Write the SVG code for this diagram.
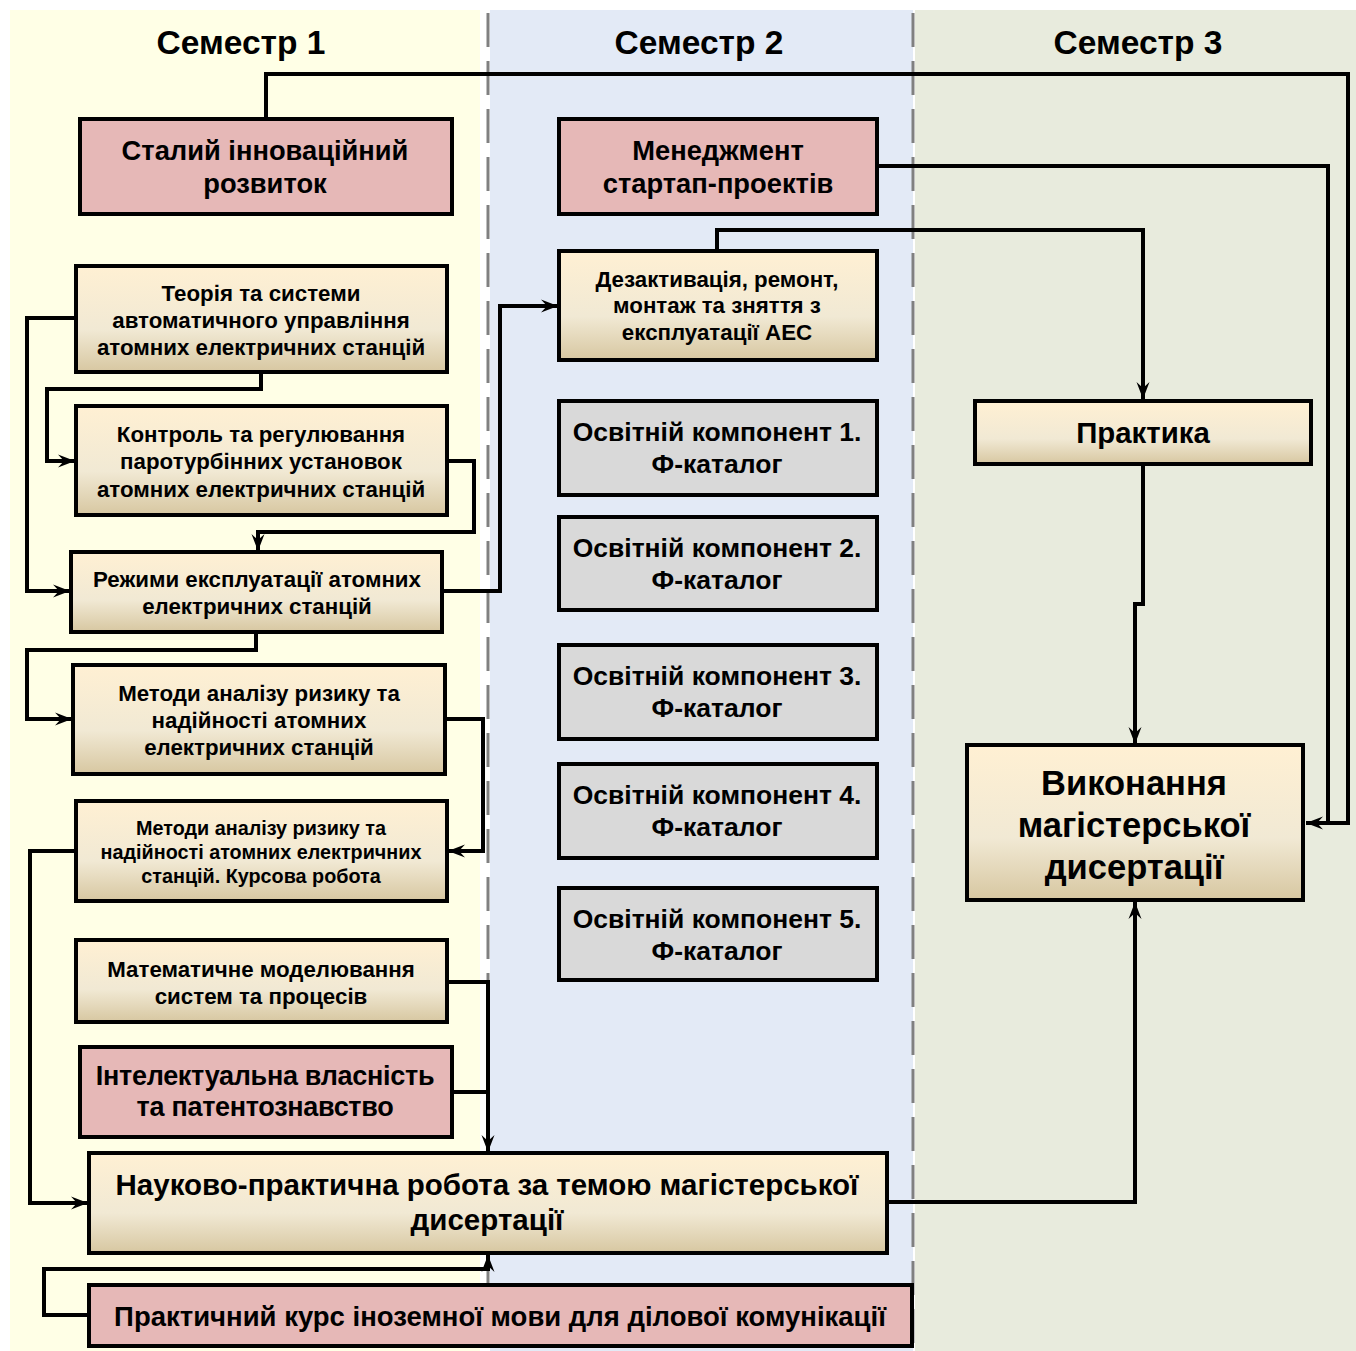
<svg xmlns="http://www.w3.org/2000/svg" width="1356" height="1351" viewBox="0 0 1356 1351">
<defs>
<linearGradient id="cream" x1="0" y1="0" x2="0" y2="1">
<stop offset="0" stop-color="#FFF0D3"/>
<stop offset="0.6" stop-color="#F1E9D4"/>
<stop offset="1" stop-color="#D7C7A1"/>
</linearGradient>
<marker id="arr" markerUnits="userSpaceOnUse" markerWidth="20" markerHeight="16" refX="17" refY="8" orient="auto">
<path d="M0,1.5 L17,8 L0,14.5 L6,8 z" fill="#000"/>
</marker>
<style>
.box{stroke:#000;stroke-width:4}
.pink{fill:#E6B8B7}
.grey{fill:#D9D9D9}
.cream{fill:url(#cream)}
text{font-family:"Liberation Sans",Arial,sans-serif;font-weight:bold;fill:#000;text-anchor:middle}
.hdr{font-size:33.5px}
.t27{font-size:27.3px}
.t22{font-size:22.3px}
.t20{font-size:19.8px}
.t26{font-size:26.5px}
.t34{font-size:34.5px}
.con{fill:none;stroke:#000;stroke-width:4;stroke-linejoin:miter}
.arr{marker-end:url(#arr)}
.dash{stroke:#808080;stroke-width:3;stroke-dasharray:34 14}
</style>
</defs>
<rect width="1356" height="1351" fill="#fff"/>
<g id="columns">
<rect x="10" y="10" width="470" height="1341" fill="#FFFFE6"/>
<rect x="490" y="10" width="423" height="1341" fill="#E3EAF6"/>
<rect x="915" y="10" width="441" height="1341" fill="#E8EBDD"/>
<line class="dash" x1="488" y1="13" x2="488" y2="1351"/>
<line class="dash" x1="913" y1="13" x2="913" y2="1351"/>
<text class="hdr" x="241" y="54">Семестр 1</text>
<text class="hdr" x="699" y="54">Семестр 2</text>
<text class="hdr" x="1138" y="54">Семестр 3</text>
</g>
<g id="connectors">
<path class="con arr" d="M266,119 V74 H1348 V823 H1306"/>
<path class="con" d="M877,166 H1328 V823"/>
<path class="con arr" d="M717,251 V230 H1143 V399"/>
<path class="con arr" d="M1143,464 V604 H1135 V744"/>
<path class="con arr" d="M887,1202 H1135 V902"/>
<path class="con arr" d="M442,591 H500 V306 H558"/>
<path class="con arr" d="M76,318 H27 V591 H70"/>
<path class="con arr" d="M261,372 V389 H47 V461 H75"/>
<path class="con arr" d="M447,461 H474 V532 H258 V551"/>
<path class="con arr" d="M256,632 V650 H27 V719 H72"/>
<path class="con arr" d="M445,719 H483 V851 H448"/>
<path class="con arr" d="M76,851 H30 V1203 H88"/>
<path class="con arr" d="M447,982 H488 V1152"/>
<path class="con" d="M452,1092 H488"/>
<path class="con arr" d="M89,1315 H44 V1269 H488 V1255"/>
</g>
<g id="n-stalyi">
<rect class="box pink" x="80" y="119" width="372" height="95"/>
<text class="t27" x="265" y="160">Сталий інноваційний</text>
<text class="t27" x="265" y="193">розвиток</text>
</g>
<g id="n-menedzhment">
<rect class="box pink" x="559" y="119" width="318" height="95"/>
<text class="t27" x="718" y="160">Менеджмент</text>
<text class="t27" x="718" y="193">стартап-проектів</text>
</g>
<g id="n-dezaktyvatsiia">
<rect class="box cream" x="559" y="251" width="318" height="109"/>
<text class="t22" x="717" y="287">Дезактивація, ремонт,</text>
<text class="t22" x="717" y="313">монтаж та зняття з</text>
<text class="t22" x="717" y="340">експлуатації АЕС</text>
</g>
<g id="n-praktyka">
<rect class="box cream" x="975" y="401" width="336" height="63"/>
<text x="1143" y="443" style="font-size:29.4px">Практика</text>
</g>
<g id="n-vykonannia">
<rect class="box cream" x="967" y="745" width="336" height="155"/>
<text class="t34" x="1134" y="795">Виконання</text>
<text class="t34" x="1134" y="837">магістерської</text>
<text class="t34" x="1134" y="879">дисертації</text>
</g>
<g id="n-ok1">
<rect class="box grey" x="559" y="401" width="318" height="94"/>
<text class="t26" x="717" y="441">Освітній компонент 1.</text>
<text class="t26" x="717" y="473">Ф-каталог</text>
</g>
<g id="n-ok2">
<rect class="box grey" x="559" y="517" width="318" height="93"/>
<text class="t26" x="717" y="557">Освітній компонент 2.</text>
<text class="t26" x="717" y="589">Ф-каталог</text>
</g>
<g id="n-ok3">
<rect class="box grey" x="559" y="645" width="318" height="94"/>
<text class="t26" x="717" y="685">Освітній компонент 3.</text>
<text class="t26" x="717" y="717">Ф-каталог</text>
</g>
<g id="n-ok4">
<rect class="box grey" x="559" y="764" width="318" height="94"/>
<text class="t26" x="717" y="804">Освітній компонент 4.</text>
<text class="t26" x="717" y="836">Ф-каталог</text>
</g>
<g id="n-ok5">
<rect class="box grey" x="559" y="888" width="318" height="92"/>
<text class="t26" x="717" y="928">Освітній компонент 5.</text>
<text class="t26" x="717" y="960">Ф-каталог</text>
</g>
<g id="n-teoriia">
<rect class="box cream" x="76" y="266" width="371" height="106"/>
<text class="t22" x="261" y="301">Теорія та системи</text>
<text class="t22" x="261" y="328">автоматичного управління</text>
<text class="t22" x="261" y="355">атомних електричних станцій</text>
</g>
<g id="n-kontrol">
<rect class="box cream" x="76" y="406" width="371" height="109"/>
<text class="t22" x="261" y="442">Контроль та регулювання</text>
<text class="t22" x="261" y="469">паротурбінних установок</text>
<text class="t22" x="261" y="497">атомних електричних станцій</text>
</g>
<g id="n-rezhymy">
<rect class="box cream" x="71" y="552" width="371" height="80"/>
<text class="t22" x="257" y="587">Режими експлуатації атомних</text>
<text class="t22" x="257" y="614">електричних станцій</text>
</g>
<g id="n-metody">
<rect class="box cream" x="73" y="665" width="372" height="109"/>
<text class="t22" x="259" y="701">Методи аналізу ризику та</text>
<text class="t22" x="259" y="728">надійності атомних</text>
<text class="t22" x="259" y="755">електричних станцій</text>
</g>
<g id="n-kursova">
<rect class="box cream" x="76" y="801" width="371" height="100"/>
<text class="t20" x="261" y="835">Методи аналізу ризику та</text>
<text class="t20" x="261" y="859">надійності атомних електричних</text>
<text class="t20" x="261" y="883">станцій. Курсова робота</text>
</g>
<g id="n-matematychne">
<rect class="box cream" x="76" y="940" width="371" height="82"/>
<text class="t22" x="261" y="977">Математичне моделювання</text>
<text class="t22" x="261" y="1004">систем та процесів</text>
</g>
<g id="n-intelektualna">
<rect class="box pink" x="80" y="1047" width="372" height="90"/>
<text x="265" y="1085" style="font-size:27px;letter-spacing:-0.3px">Інтелектуальна власність</text>
<text x="265" y="1116" style="font-size:27px;letter-spacing:-0.3px">та патентознавство</text>
</g>
<g id="n-naukovo">
<rect class="box cream" x="89" y="1153" width="798" height="100"/>
<text x="487" y="1195" style="font-size:29.5px">Науково-практична робота за темою магістерської</text>
<text x="487" y="1230" style="font-size:29.5px">дисертації</text>
</g>
<g id="n-praktychnyi">
<rect class="box pink" x="89" y="1285" width="823" height="61"/>
<text x="500" y="1326" style="font-size:27.5px">Практичний курс іноземної мови для ділової комунікації</text>
</g>
</svg>
